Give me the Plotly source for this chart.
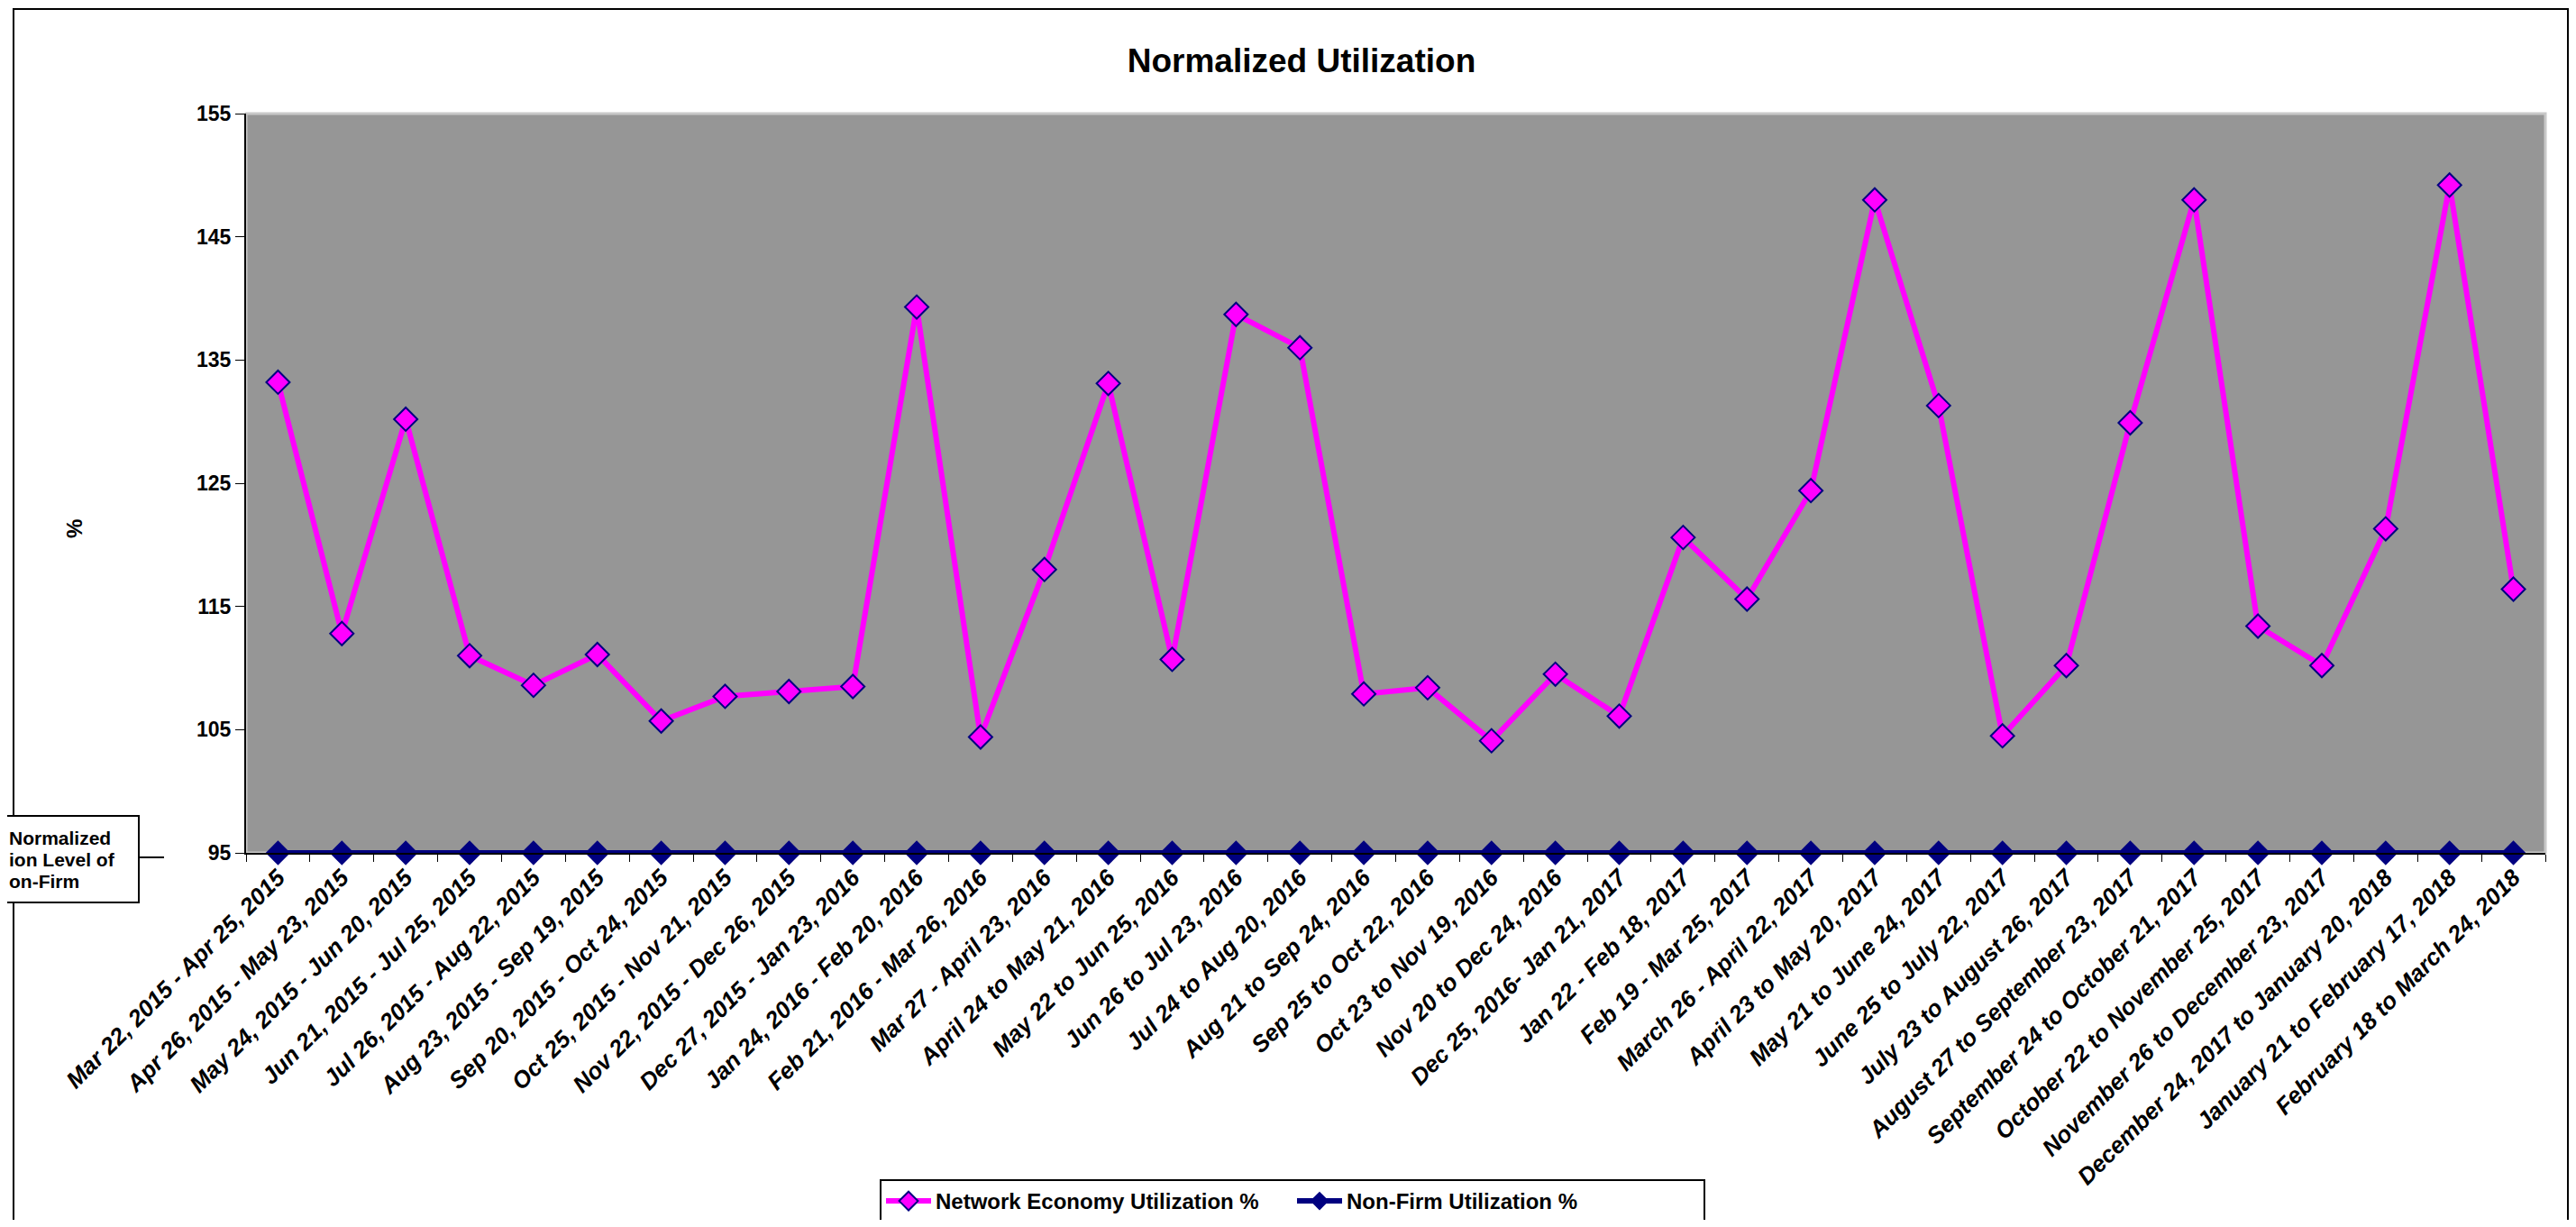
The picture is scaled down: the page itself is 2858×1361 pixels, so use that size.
import plotly.graph_objects as go

# billing periods (x categories)
periods = [
    "Mar 22, 2015 - Apr 25, 2015",
    "Apr 26, 2015 - May 23, 2015",
    "May 24, 2015 - Jun 20, 2015",
    "Jun 21, 2015 - Jul 25, 2015",
    "Jul 26, 2015 - Aug 22, 2015",
    "Aug 23, 2015 - Sep 19, 2015",
    "Sep 20, 2015 - Oct 24, 2015",
    "Oct 25, 2015 - Nov 21, 2015",
    "Nov 22, 2015 - Dec 26, 2015",
    "Dec 27, 2015 - Jan 23, 2016",
    "Jan 24, 2016 - Feb 20, 2016",
    "Feb 21, 2016 - Mar 26, 2016",
    "Mar 27 - April 23, 2016",
    "April 24 to May 21, 2016",
    "May 22 to Jun 25, 2016",
    "Jun 26 to Jul 23, 2016",
    "Jul 24 to Aug 20, 2016",
    "Aug 21 to Sep 24, 2016",
    "Sep 25 to Oct 22, 2016",
    "Oct 23 to Nov 19, 2016",
    "Nov 20 to Dec 24, 2016",
    "Dec 25, 2016- Jan 21, 2017",
    "Jan 22 - Feb 18, 2017",
    "Feb 19 - Mar 25, 2017",
    "March 26 - April 22, 2017",
    "April 23 to May 20, 2017",
    "May 21 to June 24, 2017",
    "June 25 to July 22, 2017",
    "July 23 to August 26, 2017",
    "August 27 to September 23, 2017",
    "September 24 to October 21, 2017",
    "October 22 to November 25, 2017",
    "November 26 to December 23, 2017",
    "December 24, 2017 to January 20, 2018",
    "January 21 to February 17, 2018",
    "February 18 to March 24, 2018",
]

network_economy = [
    133.2, 112.8, 130.2, 111.0, 108.6, 111.1, 105.7, 107.7, 108.1, 108.5,
    139.3, 104.4, 118.0, 133.1, 110.7, 138.7, 136.0, 107.9, 108.4, 104.1,
    109.5, 106.1, 120.6, 115.6, 124.4, 148.0, 131.3, 104.5, 110.2, 129.9,
    148.0, 113.4, 110.2, 121.3, 149.2, 116.4,
]

non_firm = [
    95, 95, 95, 95, 95, 95, 95, 95, 95, 95, 95, 95,
    95, 95, 95, 95, 95, 95, 95, 95, 95, 95, 95, 95,
    95, 95, 95, 95, 95, 95, 95, 95, 95, 95, 95, 95,
]

y_ticks = [95, 105, 115, 125, 135, 145, 155]

NARROW = "Liberation Sans Narrow, Arial Narrow, Liberation Sans, Arial, sans-serif"
ARIAL = "Liberation Sans, Arial, sans-serif"

# page body has an 8px margin, so the figure is shrunk to fit the window
OFF = 8
W, H = 2858 - 2 * OFF, 1361 - 2 * OFF
PL, PR, PT, PB = 273, 2824, 126, 946  # plot area in screen pixels


def fx(x):
    return (x - PL) / (PR - PL)


def fy(y):
    return (PB - y) / (PB - PT)


fig = go.Figure()
fig.add_trace(
    go.Scatter(
        x=periods,
        y=network_economy,
        mode="lines+markers",
        name="Network Economy Utilization %",
        line=dict(color="#FF00FF", width=6),
        marker=dict(symbol="diamond", size=20, color="#FF00FF",
                    line=dict(color="#000080", width=2)),
        cliponaxis=False,
    )
)
fig.add_trace(
    go.Scatter(
        x=periods,
        y=non_firm,
        mode="lines+markers",
        name="Non-Firm Utilization %",
        line=dict(color="#000080", width=6),
        marker=dict(symbol="diamond", size=21, color="#000080"),
        cliponaxis=False,
    )
)

shapes = [
    # outer chart frame
    dict(type="rect", xref="paper", yref="paper",
         x0=fx(15), x1=fx(2849), y0=fy(1420), y1=fy(10),
         line=dict(color="black", width=2), layer="below"),
    # light border of the plot area
    dict(type="rect", xref="paper", yref="paper", x0=0, x1=1, y0=0, y1=1,
         line=dict(color="#c8c8c8", width=3), layer="below"),
    # callout box on the left
    dict(type="rect", xref="paper", yref="paper",
         x0=fx(-30), x1=fx(154), y0=fy(1001), y1=fy(905),
         line=dict(color="black", width=2), fillcolor="white"),
    dict(type="line", xref="paper", yref="paper",
         x0=fx(154), x1=fx(182), y0=fy(951), y1=fy(951),
         line=dict(color="black", width=2)),
]

annotations = [
    dict(text="<b>%</b>", xref="paper", yref="paper", x=fx(82), y=fy(587),
         xanchor="center", yanchor="middle",
         textangle=-90, showarrow=False, font=dict(family=ARIAL, size=24, color="black")),
]
for line_text, y_pos in [("Normalized", 929), ("ion Level of", 953), ("on-Firm", 977)]:
    annotations.append(
        dict(text=line_text, xref="paper", yref="paper", x=fx(8), y=fy(y_pos),
             xanchor="left", yanchor="middle", showarrow=False,
             font=dict(family=NARROW, size=21, color="black", weight="bold"))
    )

fig.update_layout(
    template="none",
    width=W,
    height=H,
    margin=dict(l=PL - OFF, r=(2858 - OFF) - PR, t=PT - OFF, b=(1361 - OFF) - PB,
                autoexpand=False),
    paper_bgcolor="white",
    plot_bgcolor="#969696",
    title=dict(
        text="Normalized Utilization",
        x=(1444 - OFF) / W, xanchor="center",
        y=1 - (67 - OFF) / H, yanchor="middle",
        font=dict(family=ARIAL, size=37, color="black", weight="bold"),
    ),
    xaxis=dict(
        type="category",
        range=[-0.5, len(periods) - 0.5],
        automargin=False,
        tickangle=-45,
        ticks="outside",
        tickson="boundaries",
        ticklen=8,
        tickcolor="black",
        showline=True,
        linecolor="black",
        linewidth=2,
        showgrid=False,
        zeroline=False,
        tickfont=dict(family=ARIAL, size=26, color="black", weight="bold", style="italic"),
    ),
    yaxis=dict(
        range=[95, 155],
        automargin=False,
        tickvals=y_ticks,
        ticks="outside",
        ticklen=10,
        tickcolor="black",
        showline=True,
        linecolor="black",
        linewidth=2,
        showgrid=False,
        zeroline=False,
        tickfont=dict(family=NARROW, size=23, color="black", weight="bold"),
    ),
    legend=dict(
        orientation="h",
        x=fx(1434), xanchor="center",
        y=fy(1308), yanchor="top",
        bgcolor="white",
        bordercolor="black",
        borderwidth=2,
        font=dict(family=NARROW, size=24, color="black", weight="bold"),
        itemwidth=50,
        entrywidth=391,
        entrywidthmode="pixels",
    ),
    shapes=shapes,
    annotations=annotations,
    showlegend=True,
)

fig.write_html("out.html")
